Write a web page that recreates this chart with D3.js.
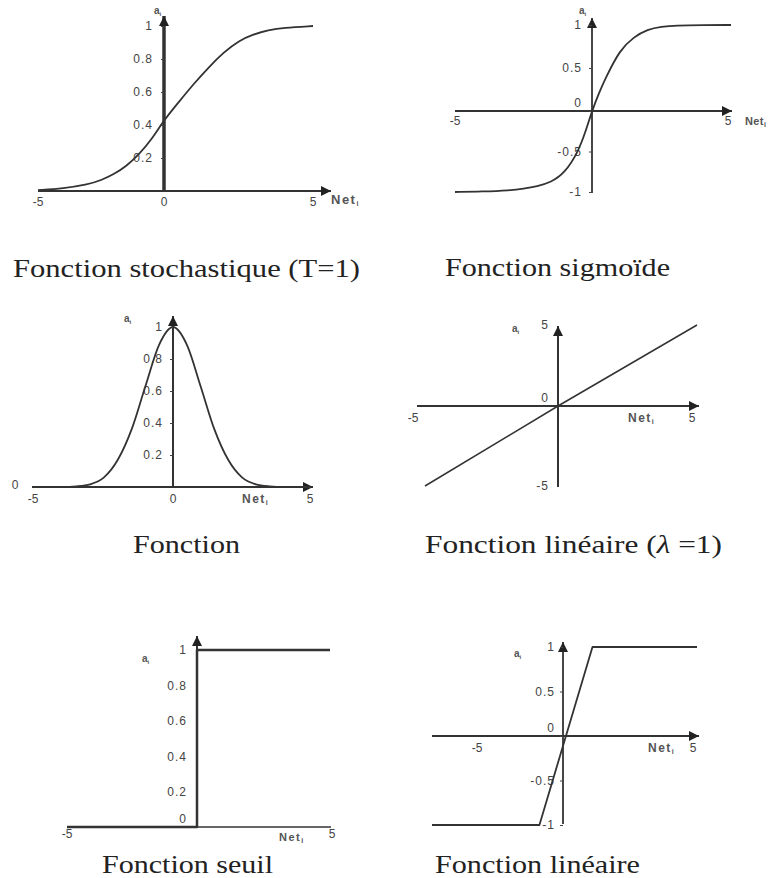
<!DOCTYPE html>
<html>
<head>
<meta charset="utf-8">
<script src="https://cdn.jsdelivr.net/npm/d3@7"></script>
<style>
  body { margin: 0; background: #fff; }
  svg { display: block; }
</style>
</head>
<body>
<div id="container"></div>
<script>
/* CONSTANTS AND GLOBALS */
const width = 771,
  height = 878;

/* DATA */
const stochX = [-5, -4, -3, -2.5, -2, -1.5, -1, -0.5, 0, 0.5, 1, 1.5, 2, 2.5, 3, 3.5, 4, 5];
const stochY = [0.005, 0.015, 0.04, 0.065, 0.1, 0.15, 0.22, 0.31, 0.43, 0.54, 0.65, 0.75, 0.84, 0.91, 0.95, 0.975, 0.99, 1];

const sigX = [-5, -4, -3, -2.5, -2, -1.5, -1, -0.5, -0.25, 0, 0.25, 0.5, 1, 1.5, 2, 2.5, 3, 4, 5];
const sigY = [-1, -0.995, -0.98, -0.96, -0.93, -0.88, -0.77, -0.5, -0.27, 0, 0.21, 0.39, 0.71, 0.86, 0.95, 0.98, 0.995, 1, 1];

const gaussX = [-5, -4, -3.5, -3, -2.5, -2, -1.5, -1, -0.5, 0, 0.5, 1, 1.5, 2, 2.5, 3, 3.5, 4, 5];
const gaussY = [0, 0, 0.004, 0.017, 0.06, 0.17, 0.36, 0.63, 0.89, 1, 0.89, 0.63, 0.36, 0.17, 0.06, 0.017, 0.004, 0, 0];

const linX = [-5, 0, 5];
const linY = [-5, 0, 5];

const stepX = [-5, 0, 0, 5];
const stepY = [0, 0, 1, 1];

const satX = [-5, -0.9, 1.1, 5];
const satY = [-1, -1, 1, 1];

const stochYTicks = [0.2, 0.4, 0.6, 0.8, 1];
const sigYTicks = [-1, -0.5, 0, 0.5, 1];
const gaussYTicks = [0.2, 0.4, 0.6, 0.8, 1];
const linYTicks = [-5, 0, 5];
const stepYTicks = [0, 0.2, 0.4, 0.6, 0.8, 1];
const satYTicks = [-1, -0.5, 0, 0.5, 1];

const stochXTicks = [-5, 0, 5];
const sigXTicks = [-5, 5];
const gaussXTicks = [-5, 0, 5];
const linXTicks = [-5, 5];
const stepXTicks = [-5, 5];
const satXTicks = [-5, 5];

const titles = [
  "Fonction stochastique (T=1)",
  "Fonction sigmoïde",
  "Fonction",
  "Fonction linéaire",
  "Fonction seuil",
  "Fonction linéaire"
];

const svg = d3.select("#container")
  .append("svg")
  .attr("width", width)
  .attr("height", height);

svg.append("defs").append("marker")
  .attr("id", "arrow")
  .attr("viewBox", "0 0 10 10")
  .attr("refX", 10)
  .attr("refY", 5)
  .attr("markerUnits", "userSpaceOnUse")
  .attr("markerWidth", 12)
  .attr("markerHeight", 10)
  .attr("orient", "auto")
  .append("path")
  .attr("d", "M0,0 L10,5 L0,10 z")
  .attr("fill", "#222");

const ink = "#333";
const labelFont = "'Liberation Sans', Arial, sans-serif";

// PANEL LAYOUT
const panels = [
  { xs: stochX, ys: stochY, yTicks: stochYTicks, xTicks: stochXTicks, xTickDx: [0, 0, 0],
    xRange: [38, 164, 313], yDomain: [0, 1], yRange: [191, 26],
    xAxis: [38, 331], yAxis: [191, 16], yAxisW: 3.5, xAxisW: 1.8, lineW: 1.8,
    tickSize: 3, tickPad: 8, zeroAbove: false, xLabDy: 15,
    net: [331, 204, 13, 1.5], ai: [154, 14], title: [13, 277, 347], curve: d3.curveBasis },
  { xs: sigX, ys: sigY, yTicks: sigYTicks, xTicks: sigXTicks, xTickDx: [0, -3],
    xRange: [455, 592, 731], yDomain: [-1, 0, 1], yRange: [192, 111, 25],
    xAxis: [455, 732], yAxis: [193, 18], yAxisW: 1.8, xAxisW: 1.8, lineW: 1.8,
    tickSize: 3, tickPad: 7, zeroAbove: true, xLabDy: 14,
    net: [745, 125, 11, 0.4], ai: [579, 14], title: [445, 276, 225], curve: d3.curveBasis },
  { xs: gaussX, ys: gaussY, yTicks: gaussYTicks, xTicks: gaussXTicks, xTickDx: [-2, 0, -1],
    xRange: [35, 173, 311], yDomain: [0, 1], yRange: [487, 327],
    xAxis: [32, 313], yAxis: [487, 316], yAxisW: 2, xAxisW: 1.8, lineW: 1.8,
    tickSize: 3, tickPad: 7, zeroAbove: false, xLabDy: 16,
    net: [242, 503, 12, 1.5], ai: [124, 322], title: [133, 553, 107], curve: d3.curveMonotoneX,
    extra: [["0", 15, 489]] },
  { xs: linX, ys: linY, yTicks: linYTicks, xTicks: linXTicks, xTickDx: [-12, -5],
    xRange: [425, 558, 697], yDomain: [-5, 0, 5], yRange: [486, 406, 325],
    xAxis: [417, 699], yAxis: [487, 326], yAxisW: 2, xAxisW: 1.8, lineW: 1.5,
    tickSize: 0, tickPad: 9, zeroAbove: true, xLabDy: 16,
    net: [628, 422, 12, 1.5], ai: [512, 332], title: [425, 553, 297], curve: d3.curveLinear },
  { xs: stepX, ys: stepY, yTicks: stepYTicks, xTicks: stepXTicks, xTickDx: [0, 2],
    xRange: [67, 197, 330], yDomain: [0, 1], yRange: [827, 650],
    xAxis: [67, 331], yAxis: [827, 636], yAxisW: 2, xAxisW: 1.5, lineW: 2.5,
    tickSize: 0, tickPad: 10, zeroAbove: true, xLabDy: 11,
    net: [279, 841, 11, 1.5], ai: [142, 662], title: [102, 873, 171], curve: d3.curveLinear, noXArrow: true },
  { xs: satX, ys: satY, yTicks: satYTicks, xTicks: satXTicks, xTickDx: [45, -4],
    xRange: [432, 563, 697], yDomain: [-1, 0, 1], yRange: [825, 736, 647],
    xAxis: [432, 699], yAxis: [824, 642], yAxisW: 1.8, xAxisW: 1.8, lineW: 1.8,
    tickSize: 3, tickPad: 5, zeroAbove: true, xLabDy: 16,
    net: [648, 752, 12, 1.5], ai: [514, 657], title: [435, 873, 205], curve: d3.curveLinear }
];

panels.forEach((p, i) => {
  const x = d3.scaleLinear().domain([-5, 0, 5]).range(p.xRange);
  const y = d3.scaleLinear().domain(p.yDomain).range(p.yRange);
  const g = svg.append("g");

  // AXES
  const xAx = g.append("line")
    .attr("x1", p.xAxis[0]).attr("x2", p.xAxis[1])
    .attr("y1", y(0)).attr("y2", y(0))
    .attr("stroke", ink).attr("stroke-width", p.xAxisW);
  if (!p.noXArrow) xAx.attr("marker-end", "url(#arrow)");

  g.append("line")
    .attr("x1", x(0)).attr("x2", x(0))
    .attr("y1", p.yAxis[0]).attr("y2", p.yAxis[1])
    .attr("stroke", ink).attr("stroke-width", p.yAxisW)
    .attr("marker-end", "url(#arrow)");

  // y ticks
  const yAxisG = g.append("g")
    .attr("transform", `translate(${x(0)},0)`)
    .call(d3.axisLeft(y).tickValues(p.yTicks).tickSize(p.tickSize)
      .tickPadding(p.tickPad).tickFormat(d => String(d)));
  yAxisG.select(".domain").remove();
  yAxisG.attr("font-family", labelFont).attr("font-size", 12)
    .attr("color", "#444").attr("letter-spacing", 1);
  if (p.zeroAbove) yAxisG.selectAll(".tick text").filter(d => d === 0).attr("dy", "-0.35em");

  // x tick labels
  g.selectAll("text.xtick")
    .data(p.xTicks)
    .join("text")
    .attr("class", "xtick")
    .attr("x", (d, j) => x(d) + p.xTickDx[j])
    .attr("y", y(0) + p.xLabDy)
    .attr("text-anchor", "middle")
    .attr("font-family", labelFont).attr("font-size", 12)
    .attr("fill", "#444")
    .text(d => String(d));

  (p.extra || []).forEach(e => {
    g.append("text").attr("x", e[1]).attr("y", e[2])
      .attr("text-anchor", "middle")
      .attr("font-family", labelFont).attr("font-size", 12)
      .attr("fill", "#444").text(e[0]);
  });

  // axis names
  const net = g.append("text")
    .attr("x", p.net[0]).attr("y", p.net[1])
    .attr("font-family", labelFont).attr("font-size", p.net[2])
    .attr("font-weight", "bold").attr("letter-spacing", p.net[3])
    .attr("fill", "#555");
  net.append("tspan").text("Net");
  net.append("tspan").attr("font-size", 7).attr("dy", 2).text("i");

  const ai = g.append("text")
    .attr("x", p.ai[0]).attr("y", p.ai[1])
    .attr("font-family", labelFont).attr("font-size", 10)
    .attr("font-weight", "bold").attr("fill", "#555");
  ai.append("tspan").text("a");
  ai.append("tspan").attr("font-size", 6).attr("dy", 2).text("i");

  // CURVE
  const pts = p.xs.map((v, j) => [v, p.ys[j]]);
  g.append("path")
    .datum(pts)
    .attr("fill", "none")
    .attr("stroke", ink)
    .attr("stroke-width", p.lineW)
    .attr("stroke-linejoin", "round")
    .attr("d", d3.line().x(d => x(d[0])).y(d => y(d[1])).curve(p.curve));

  // TITLE
  const t = svg.append("text")
    .attr("x", p.title[0]).attr("y", p.title[1])
    .attr("font-family", "'Liberation Serif', 'Times New Roman', serif")
    .attr("font-size", 26)
    .attr("fill", "#222")
    .attr("textLength", p.title[2])
    .attr("lengthAdjust", "spacingAndGlyphs");
  t.append("tspan").text(titles[i]);
  if (i === 3) {
    t.append("tspan").text("  (");
    t.append("tspan").attr("font-style", "italic").text("λ");
    t.append("tspan").text(" =1)");
  }
});
</script>
</body>
</html>
